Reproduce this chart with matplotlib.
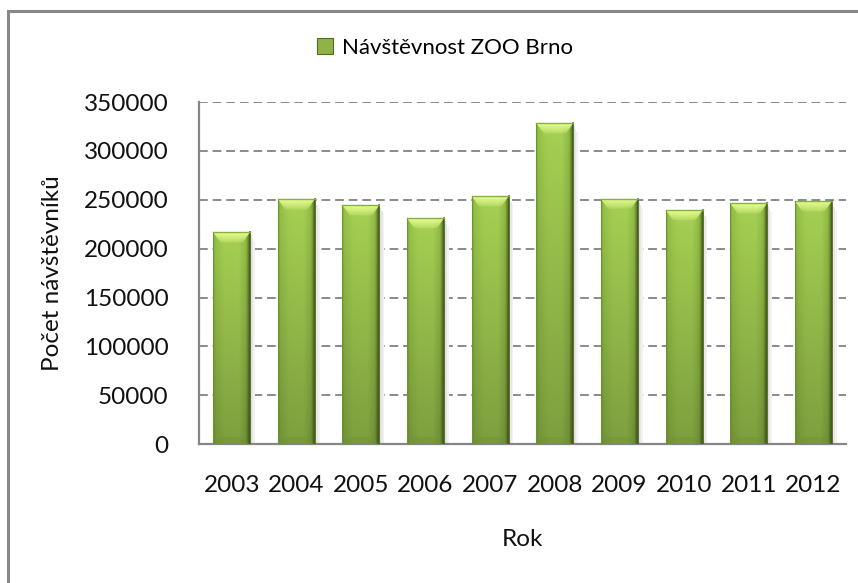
import numpy as np
import matplotlib
matplotlib.use("Agg")
import matplotlib.pyplot as plt
from matplotlib.patches import Rectangle, Polygon
from matplotlib.colors import LinearSegmentedColormap

# ── Data ────────────────────────────────────────────────────────────────────
years = ["2003", "2004", "2005", "2006", "2007", "2008", "2009", "2010", "2011", "2012"]
visitors = [216800, 250500, 244400, 231100, 253600, 328200, 250800, 239300, 246400, 248500]
y_ticks = [0, 50000, 100000, 150000, 200000, 250000, 300000, 350000]

LEGEND_LABEL = "Návštěvnost ZOO Brno"
X_LABEL = "Rok"
Y_LABEL = "Počet návštěvníků"

plt.rcParams["font.family"] = ["Lato", "DejaVu Sans"]
FS = 17.5

fig = plt.figure(figsize=(8.58, 5.83), dpi=100)
ax = fig.add_axes([0.2323, 0.238, 0.7534, 0.587])

# outer chart border (runs off right/bottom like the original)
fig.patches.append(Rectangle((8 / 858, -0.05), 1.2, 1 - 10.5 / 583 + 0.05,
                             transform=fig.transFigure, fill=False,
                             edgecolor="#888888", linewidth=2.2, zorder=0))

x = np.arange(len(years))
width = 0.57

# horizontal shading across a bar, then darkened toward the bottom
body = LinearSegmentedColormap.from_list(
    "body", [(0.0, "#7fa83a"), (0.06, "#96c248"), (0.3, "#a5d052"),
             (0.7, "#a6d153"), (0.9, "#92bb48"), (0.96, "#6a8c2c"), (1.0, "#4a661c")])
prof = body(np.linspace(0, 1, 80))[None, :, :3]
vert = np.linspace(0.76, 1.0, 100)[:, None, None]
bar_rgb = np.clip(prof * vert, 0, 1)

# bevel gradient: pale yellow-green at the top fading into the body
bev_rgba = np.zeros((40, 1, 4))
bev_rgba[:, 0, :3] = np.array([0.91, 1.0, 0.58])
bev_rgba[:, 0, 3] = 0.1 + 0.9 * np.linspace(0.0, 1.0, 40) ** 0.8

bars = ax.bar(x, visitors, width=width, color="#9bbb59", edgecolor="none", zorder=3)

bevel = 10500
for rect, v in zip(bars, visitors):
    x0 = rect.get_x()
    w = rect.get_width()
    # soft shadow on the right
    for k, c in enumerate(["#dcdcdc", "#e8e8e8", "#f2f2f2"]):
        ax.add_patch(Rectangle((x0 + w, 0), 0.025 * (k + 1), v - 3000 * (k + 1),
                               facecolor=c, edgecolor="none", zorder=2 - k * 0.1))
    img = ax.imshow(bar_rgb, extent=(x0, x0 + w, 0, v), origin="lower",
                    aspect="auto", zorder=4, interpolation="bilinear")
    img.set_clip_path(rect)
    # top bevel
    top = Polygon([(x0, v), (x0 + w, v), (x0 + w * 0.8, v - bevel),
                   (x0 + w * 0.2, v - bevel)], closed=True,
                  facecolor="none", edgecolor="none", zorder=5)
    ax.add_patch(top)
    bimg = ax.imshow(bev_rgba, extent=(x0, x0 + w, v - bevel, v), origin="lower",
                     aspect="auto", zorder=5, interpolation="bilinear")
    bimg.set_clip_path(top)
    # bottom bevel
    ax.add_patch(Polygon([(x0, 0), (x0 + w, 0), (x0 + w * 0.8, bevel * 0.7),
                          (x0 + w * 0.2, bevel * 0.7)], closed=True,
                         facecolor="#6f8f32", edgecolor="none", alpha=0.35, zorder=5))
    ax.plot([x0 + w, x0 + w], [0, v], color="#46601a", linewidth=1.2, zorder=6)
    ax.plot([x0, x0], [0, v], color="#6f9430", linewidth=0.8, zorder=6)
    ax.plot([x0, x0 + w], [v, v], color="#86b03e", linewidth=1.0, zorder=6)

ax.set_xlim(-0.5, len(years) - 0.5)
ax.set_ylim(0, 350000)
ax.set_yticks(y_ticks)
ax.set_yticklabels([str(t) for t in y_ticks], fontsize=FS)
ax.set_xticks(x)
ax.set_xticklabels(years, fontsize=FS)
ax.tick_params(axis="both", length=0, colors="#111111")
ax.tick_params(axis="y", pad=22)
ax.tick_params(axis="x", pad=22)

ax.yaxis.grid(True, linestyle=(0, (4.5, 2.5)), color="#8a8a8a", linewidth=1.4, zorder=1)
ax.set_axisbelow(True)
for s in ["top", "right"]:
    ax.spines[s].set_visible(False)
for s in ["left", "bottom"]:
    ax.spines[s].set_color("#868686")
    ax.spines[s].set_linewidth(1.6)

ax.set_xlabel(X_LABEL, fontsize=FS, labelpad=24, color="#111111")
ax.set_ylabel(Y_LABEL, fontsize=FS, labelpad=15, color="#111111")

handle = Rectangle((0, 0), 1, 1, facecolor="#8fb347", edgecolor="#506b22", linewidth=0.8)
fig.legend([handle], [LEGEND_LABEL], loc="center", bbox_to_anchor=(445 / 858, 1 - 48 / 583),
           frameon=False, fontsize=16, handlelength=0.7, handleheight=0.7,
           handletextpad=0.4)

fig.savefig("out.png", dpi=100)
